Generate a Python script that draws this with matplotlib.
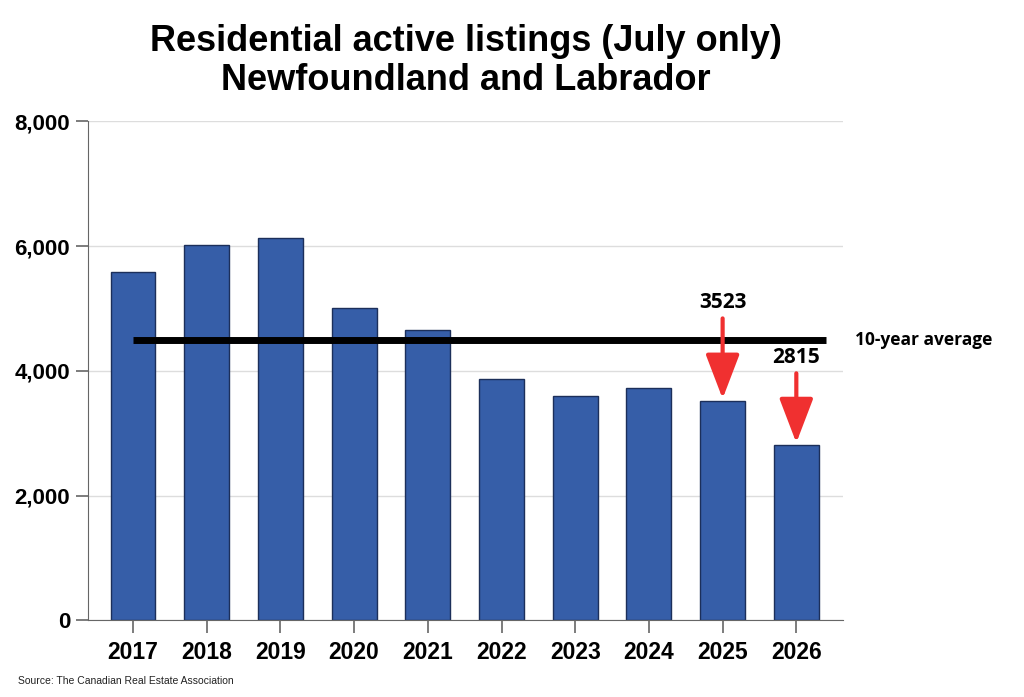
import numpy as np
import matplotlib.pyplot as plt

# data
years = ["2017", "2018", "2019", "2020", "2021", "2022", "2023", "2024", "2025", "2026"]
listings = [5580, 6020, 6130, 5000, 4660, 3870, 3600, 3720, 3523, 2815]
ten_year_avg = 4500
yticks = [0, 2000, 4000, 6000, 8000]

plt.rcParams['font.family'] = ['Liberation Sans', 'DejaVu Sans']

fig = plt.figure(figsize=(10.24, 6.97), dpi=100)
ax = fig.add_axes([0.086, 0.110, 0.737, 0.716])

x = np.arange(len(years))
ax.bar(x, listings, width=0.61, color='#365EA8', edgecolor='#1c2f5a', linewidth=1, zorder=2)

# 10-year average line
ax.plot([0, 9.4], [ten_year_avg, ten_year_avg], color='black', lw=5, solid_capstyle='butt', zorder=3)
ax.text(9.8, ten_year_avg, "10-year average", fontsize=12.5, fontweight='bold',
        family=['Open Sans', 'DejaVu Sans'], va='center', ha='left')

# red arrows with the last two values
for i, top in [(8, 4840), (9, 3960)]:
    ax.annotate("", xy=(i, listings[i] + 30), xytext=(i, top),
                arrowprops=dict(arrowstyle='-|>,head_length=0.55,head_width=0.21', color='#f03030',
                                lw=3, mutation_scale=50, shrinkA=0, shrinkB=0), zorder=4)
    ax.text(i, top + 90, str(listings[i]), fontsize=15, fontweight='bold',
            family=['Open Sans', 'DejaVu Sans'], ha='center', va='bottom')

ax.set_xlim(-0.61, 9.63)
ax.set_ylim(0, 8000)
ax.set_xticks(x)
ax.set_xticklabels(years, fontsize=16.5, fontweight='bold')
ax.set_yticks(yticks)
ax.set_yticklabels([f"{v:,}" for v in yticks], fontsize=16, fontweight='bold')
ax.grid(axis='y', color='#dddddd', lw=1, zorder=0)
ax.tick_params(axis='both', length=9, width=1.2, color='#666666', pad=6)
ax.tick_params(axis='y', pad=4)
ax.spines['top'].set_visible(False)
ax.spines['right'].set_visible(False)
ax.spines['left'].set_color('#666666')
ax.spines['bottom'].set_color('#666666')

fig.text(0.455, 0.913, "Residential active listings (July only)\nNewfoundland and Labrador",
         ha='center', va='center', fontsize=26, fontweight='bold', linespacing=1.15)
fig.text(0.018, 0.019, "Source: The Canadian Real Estate Association", fontsize=7.5, color='#222222')

fig.savefig("out.png", dpi=100)
